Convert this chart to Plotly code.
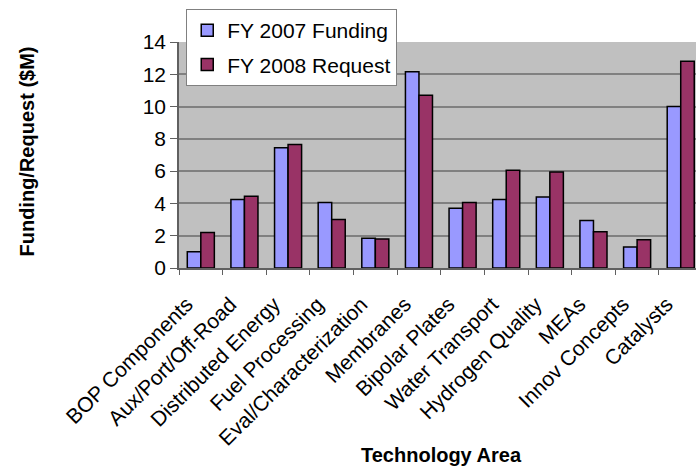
import plotly.graph_objects as go

categories = ["BOP Components", "Aux/Port/Off-Road", "Distributed Energy", "Fuel Processing",
              "Eval/Characterization", "Membranes", "Bipolar Plates", "Water Transport",
              "Hydrogen Quality", "MEAs", "Innov Concepts", "Catalysts"]
fy2007 = [1.0, 4.25, 7.45, 4.05, 1.85, 12.15, 3.7, 4.25, 4.4, 2.95, 1.3, 10.0]
fy2008 = [2.2, 4.45, 7.65, 3.0, 1.8, 10.7, 4.05, 6.05, 5.95, 2.25, 1.75, 12.8]
y_ticks = [0, 2, 4, 6, 8, 10, 12, 14]

FONT = "Arial, Liberation Sans, sans-serif"

fig = go.Figure()
fig.add_trace(go.Bar(x=categories, y=fy2007, name="FY 2007 Funding", legendgroup="a",
                     marker=dict(color="#9999FF", line=dict(color="black", width=1.5))))
fig.add_trace(go.Bar(x=categories, y=fy2008, name="FY 2008 Request", legendgroup="b",
                     marker=dict(color="#993366", line=dict(color="black", width=1.5))))

W, H = 696, 467
L, R, T, B = 179, 0, 42, 199
PH = H - T - B

fig.update_layout(
    width=W, height=H,
    margin=dict(l=L, r=R, t=T, b=B, pad=0),
    paper_bgcolor="white", plot_bgcolor="#C0C0C0",
    font=dict(family=FONT, size=20, color="black"),
    barmode="group", bargap=0.38, bargroupgap=0,
    showlegend=True,
    legend=dict(x=0.014, y=(H - B - 9) / PH, xanchor="left", yanchor="top",
                bgcolor="white", bordercolor="#808080", borderwidth=1,
                font=dict(family=FONT, size=21, color="black"),
                traceorder="grouped", tracegroupgap=4, itemwidth=30),
    xaxis=dict(range=[-0.5, 11.35], tickangle=-45, tickson="boundaries",
               ticks="outside", ticklen=5, tickcolor="#606060",
               showline=True, linecolor="#606060", linewidth=1.5,
               showgrid=False, tickfont=dict(family=FONT, size=21, color="black"),
               ticklabelshift=-14, ticklabelstandoff=14,
               automargin=False, fixedrange=True),
    yaxis=dict(range=[0, 14], tickvals=y_ticks, ticktext=[str(v) for v in y_ticks],
               ticks="outside", ticklen=7, tickcolor="#606060",
               showline=True, linecolor="#606060", linewidth=1.5,
               showgrid=True, gridcolor="#808080", gridwidth=1.5,
               zeroline=False, tickfont=dict(family=FONT, size=21, color="black"),
               automargin=False, fixedrange=True),
    annotations=[
        dict(text="<b>Funding/Request ($M)</b>", xref="paper", yref="paper",
             x=-(L - 26) / (W - L - R), y=(H - B - 151.5) / PH,
             textangle=-90, showarrow=False, xanchor="center", yanchor="middle",
             font=dict(family=FONT, size=20, color="black")),
        dict(text="<b>Technology Area</b>", xref="paper", yref="paper",
             x=(441.5 - L) / (W - L - R), y=-(455 - (H - B)) / PH,
             showarrow=False, xanchor="center", yanchor="middle",
             font=dict(family=FONT, size=20, color="black")),
    ],
)

fig.write_html("out.html", config={"displayModeBar": False},
               post_script="document.body.style.margin='0';document.body.style.overflow='hidden';")
